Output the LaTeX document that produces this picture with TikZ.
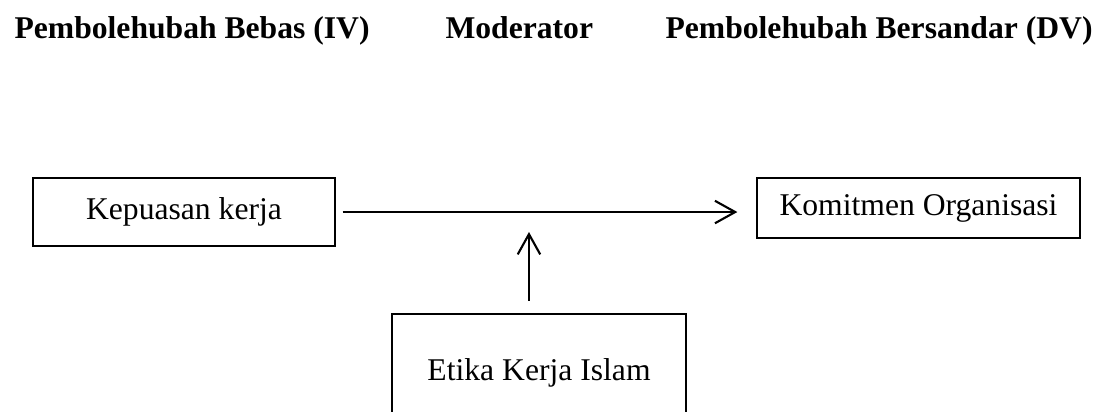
\documentclass[tikz,border=0pt]{standalone}
\usepackage{fontspec}
\setmainfont{Liberation Serif}
\usetikzlibrary{arrows.meta}

\begin{document}
\begin{tikzpicture}[box/.style={draw=black,line width=.6pt,inner sep=0pt},head/.style={anchor=base west,inner sep=0pt,font=\fontsize{12pt}{14pt}\selectfont\bfseries},arr/.style={-{Straight Barb[length=2.7mm,width=3mm]},line width=.8pt},font=\fontsize{12pt}{14pt}\selectfont]
\clip (0,0) rectangle (14.8,5.48);
\node[head] (iv) at (.187,4.96) {Pembolehubah Bebas (IV)};
\node[head] (mod) at (5.933,4.96) {Moderator};
\node[head] (dv) at (8.867,4.96) {Pembolehubah Bersandar (DV)};
\node[box,minimum width=4.03cm,minimum height=.91cm] (kepuasan) at (2.453,2.653) {Kepuasan kerja};
\node[box,minimum width=4.31cm,minimum height=.8cm] (komitmen) at (12.247,2.707) {Komitmen Organisasi};
\node[box,minimum width=3.92cm,minimum height=1.57cm] (etika) at (7.187,.507) {Etika Kerja Islam};
\coordinate (tip) at (7.053,2.387);
\draw[arr,shorten <=.09cm,shorten >=.25cm] (kepuasan.east) -- (kepuasan.east -| komitmen.west);
\draw[arr,shorten <=.17cm] (etika.north -| tip) -- (tip);
\end{tikzpicture}
\end{document}
